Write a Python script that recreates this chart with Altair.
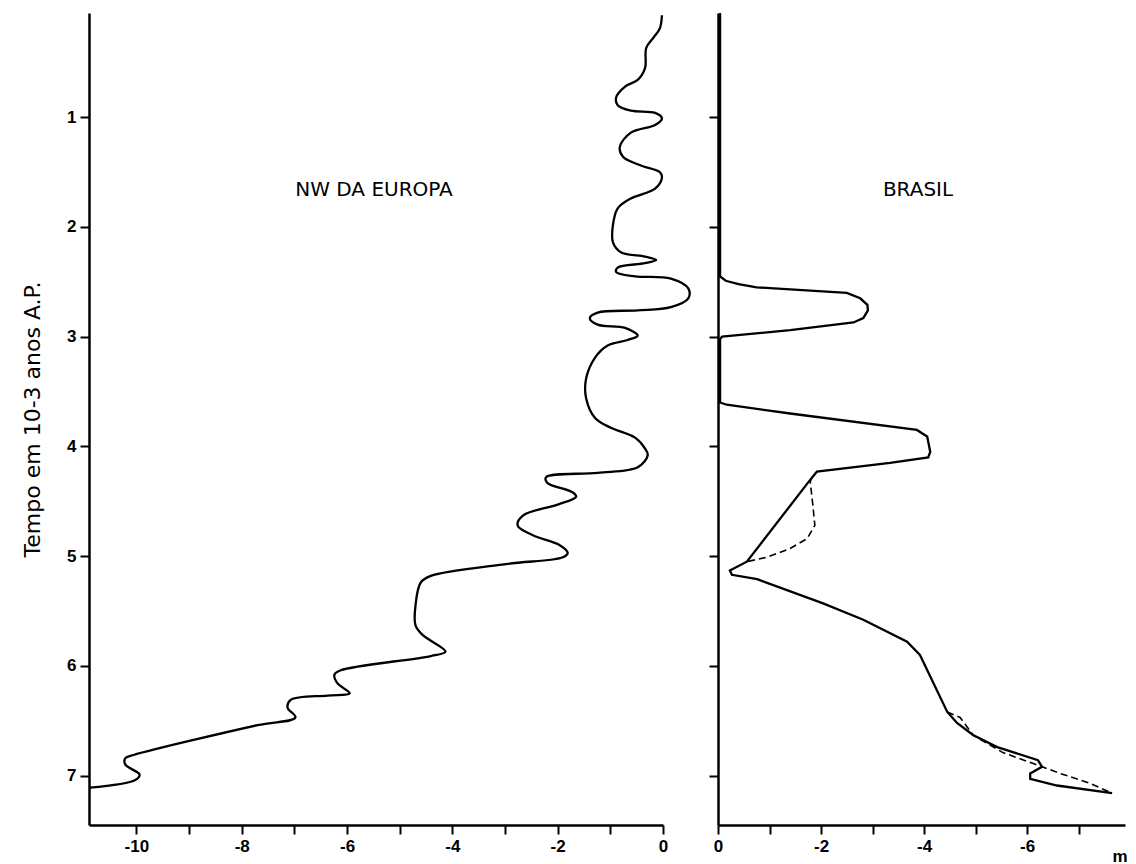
import altair as alt
import pandas as pd

# ---- data ----
left_time = [0.07, 0.19, 0.28, 0.37, 0.55, 0.66, 0.72, 0.82, 0.89, 0.94, 0.96, 1.01,
             1.07, 1.14, 1.27, 1.36, 1.44, 1.50, 1.55, 1.65, 1.74, 1.83, 1.98, 2.14,
             2.23, 2.27, 2.30, 2.33, 2.37, 2.41, 2.45, 2.47, 2.56, 2.65, 2.73, 2.76,
             2.78, 2.83, 2.89, 2.92, 2.99, 3.03, 3.08, 3.19, 3.38, 3.56, 3.74, 3.83,
             3.92, 4.02, 4.08, 4.19, 4.24, 4.28, 4.33, 4.42, 4.46, 4.53, 4.63, 4.72,
             4.81, 4.90, 4.97, 5.01, 5.07, 5.18, 5.24, 5.45, 5.63, 5.72, 5.87, 5.91,
             6.04, 6.08, 6.16, 6.25, 6.27, 6.31, 6.38, 6.47, 6.54, 6.81, 6.84, 6.90,
             6.99, 7.04, 7.11]
left_level = [-0.02, -0.06, -0.19, -0.32, -0.34, -0.48, -0.72, -0.89, -0.86, -0.61, -0.15, -0.02,
              -0.15, -0.61, -0.82, -0.76, -0.42, -0.06, -0.02, -0.15, -0.61, -0.86, -0.95, -0.95,
              -0.80, -0.34, -0.13, -0.34, -0.86, -0.89, -0.53, 0.15, 0.48, 0.48, 0.15, -0.48,
              -1.24, -1.39, -1.24, -0.72, -0.48, -0.67, -1.05, -1.29, -1.46, -1.46, -1.29, -0.99,
              -0.53, -0.34, -0.29, -0.48, -1.24, -2.22, -2.20, -1.71, -1.65, -2.00, -2.66, -2.76,
              -2.47, -1.96, -1.81, -1.90, -2.95, -4.41, -4.60, -4.70, -4.70, -4.56, -4.13, -4.41,
              -6.12, -6.24, -6.18, -5.95, -6.37, -7.07, -7.13, -6.98, -7.70, -10.04, -10.21, -10.21,
              -9.94, -10.02, -10.89]

brasil_time = [0.05, 2.45, 2.49, 2.52, 2.55, 2.60, 2.65, 2.71, 2.76, 2.83, 2.87, 2.94,
               3.00, 3.02, 3.60, 3.62, 3.70, 3.85, 3.91, 4.05, 4.10, 4.15, 4.23, 4.28,
               5.05, 5.13, 5.17, 5.21, 5.43, 5.58, 5.78, 5.90, 6.42, 6.52, 6.63, 6.74,
               6.86, 6.92, 6.98, 7.03, 7.09, 7.16]
brasil_level = [-0.04, -0.04, -0.15, -0.40, -0.75, -2.50, -2.76, -2.90, -2.91, -2.82, -2.63, -1.40,
                -0.08, -0.04, -0.04, -0.17, -1.40, -3.86, -4.06, -4.12, -4.08, -3.34, -1.92, -1.83,
                -0.56, -0.23, -0.27, -0.76, -2.04, -2.82, -3.67, -3.92, -4.45, -4.64, -4.95, -5.42,
                -6.21, -6.29, -6.06, -6.06, -6.58, -7.65]

dash_a_time = [4.28, 4.32, 4.53, 4.72, 4.84, 4.93, 5.01, 5.05]
dash_a_level = [-1.83, -1.79, -1.84, -1.88, -1.73, -1.40, -0.95, -0.56]
dash_b_time = [6.42, 6.47, 6.63, 6.79, 6.89, 6.98, 7.07, 7.16]
dash_b_level = [-4.45, -4.70, -4.95, -5.53, -6.12, -6.64, -7.22, -7.65]

y_ticks = [1, 2, 3, 4, 5, 6, 7]
x_ticks_left = [-10, -9, -8, -7, -6, -5, -4, -3, -2, -1, 0]
x_ticks_right = [0, -1, -2, -3, -4, -5, -6, -7]
panel_titles = ["NW DA EUROPA", "BRASIL"]
y_title = "Tempo em 10-3 anos A.P."
x_unit = "m"

FONT = "Liberation Sans"
TFONT = "DejaVu Sans"
H = 812
WL = 574
WR = 407

left_df = pd.DataFrame({"t": left_time, "v": left_level, "i": range(len(left_time))})
brasil_df = pd.DataFrame({"t": brasil_time, "v": brasil_level, "i": range(len(brasil_time))})
dash_df = pd.concat([
    pd.DataFrame({"t": dash_a_time, "v": dash_a_level, "i": range(len(dash_a_time)), "seg": "a"}),
    pd.DataFrame({"t": dash_b_time, "v": dash_b_level, "i": range(len(dash_b_time)), "seg": "b"}),
], ignore_index=True)

y_scale = alt.Scale(domain=[0.05, 7.45], reverse=True, nice=False, zero=False)
label_expr = "datum.value % 2 == 0 ? toString(datum.value) : ''"

left_line = alt.Chart(left_df).mark_line(
    color="black", strokeWidth=2.3, interpolate="catmull-rom"
).encode(
    x=alt.X("v:Q", scale=alt.Scale(domain=[-10.9, 0], nice=False, zero=False),
            axis=alt.Axis(values=x_ticks_left, labelExpr=label_expr, title=None,
                          labelFlush=False, labelPadding=4)),
    y=alt.Y("t:Q", scale=y_scale,
            axis=alt.Axis(values=y_ticks, title=y_title, titlePadding=22,
                          labelPadding=4, titleFontSize=22, titleFont=TFONT,
                          titleFontWeight="normal")),
    order="i:Q",
)

left_text = alt.Chart(pd.DataFrame({"label": [panel_titles[0]]})).mark_text(
    font=TFONT, fontSize=20, fontWeight="normal", color="black", align="center", baseline="middle"
).encode(x=alt.value(285), y=alt.value(177), text="label:N")

right_x = alt.X("v:Q", scale=alt.Scale(domain=[-7.9, 0], reverse=True, nice=False, zero=False),
                axis=alt.Axis(values=x_ticks_right, labelExpr=label_expr, title=x_unit,
                              labelFlush=False, labelPadding=4, titleAnchor="end",
                              titleAlign="right", titleBaseline="alphabetic",
                              titleX=WR + 2, titleY=36, titleFont=FONT,
                              titleFontSize=17, titleFontWeight="bold"))
right_y = alt.Y("t:Q", scale=y_scale, axis=alt.Axis(values=y_ticks, labels=False, title=None))

brasil_line = alt.Chart(brasil_df).mark_line(
    color="black", strokeWidth=2.3, interpolate="linear"
).encode(x=right_x, y=right_y, order="i:Q")

dash_line = alt.Chart(dash_df).mark_line(
    color="black", strokeWidth=1.6, strokeDash=[7, 4]
).encode(x=right_x, y=right_y, order="i:Q", detail="seg:N")

right_text = alt.Chart(pd.DataFrame({"label": [panel_titles[1]]})).mark_text(
    font=TFONT, fontSize=20, fontWeight="normal", color="black", align="center", baseline="middle"
).encode(x=alt.value(200), y=alt.value(177), text="label:N")

left = alt.layer(left_line, left_text).properties(width=WL, height=H)
right = alt.layer(brasil_line, dash_line, right_text).properties(width=WR, height=H)

chart = alt.hconcat(left, right, spacing=13).properties(
    padding={"left": 13, "top": 0, "right": 0, "bottom": 0}
).configure_axis(
    domainColor="black", domainWidth=2.5, tickColor="black", tickWidth=2, tickSize=9,
    labelFont=FONT, labelFontSize=17, labelFontWeight="bold", labelColor="black",
    titleColor="black", grid=False
).configure_view(stroke=None)

chart.save("out.html", embed_options={"renderer": "svg", "actions": False})
